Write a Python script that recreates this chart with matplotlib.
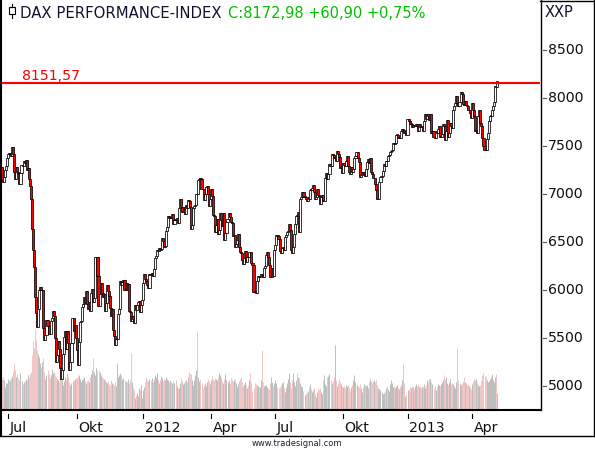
import matplotlib
matplotlib.use("Agg")
import matplotlib.pyplot as plt
import numpy as np
from matplotlib.lines import Line2D
from matplotlib.patches import Rectangle
from matplotlib.transforms import blended_transform_factory

# DAX Schlusskurse (Tage), ab 22.06.2011 bis 07.05.2013
jun11 = [7278, 7149, 7121, 7180, 7253, 7294, 7376]
jul11 = [7419, 7418, 7430, 7394, 7490, 7420, 7231, 7155, 7285, 7224, 7220, 7108, 7217, 7303, 7290, 7344,
         7326, 7356, 7253, 7270, 7158]
aug11 = [7082, 6953, 6636, 6414, 6236, 5923, 5763, 5613, 5798, 5997, 6035, 5995, 5995, 5603, 5480, 5529,
         5689, 5627, 5539, 5537, 5672, 5704, 5785]
sep11 = [5727, 5504, 5246, 5319, 5468, 5389, 5190, 5072, 5166, 5330, 5508, 5573, 5384, 5572, 5449, 5164,
         5253, 5449, 5713, 5578, 5640, 5502]
oct11 = [5377, 5217, 5455, 5671, 5675, 5826, 5858, 5925, 5863, 5988, 5857, 5800, 5875, 5784, 5970, 6012,
         5879, 5913, 6339, 6346, 6141]
nov11 = [5835, 5961, 6071, 5967, 5929, 5961, 5779, 5868, 6057, 5985, 5933, 5811, 5733, 5800, 5587, 5525,
         5428, 5493, 5493, 5745, 5800, 6089]
dec11 = [6052, 6080, 6107, 5995, 6068, 5996, 6062, 5785, 5775, 5675, 5730, 5702, 5653, 5846, 5791, 5847,
         5878, 5889, 5771, 5848, 5898]
jan12 = [6075, 6166, 6111, 6096, 6057, 6017, 6163, 6152, 6179, 6143, 6221, 6332, 6354, 6416, 6404, 6436,
         6420, 6422, 6539, 6511, 6444, 6458]
feb12 = [6616, 6656, 6766, 6754, 6765, 6748, 6793, 6692, 6733, 6728, 6748, 6699, 6849, 6949, 6867, 6810,
         6810, 6864, 6787, 6887, 6856]
mar12 = [6941, 6922, 6866, 6633, 6675, 6856, 6880, 6882, 6996, 6995, 7144, 7157, 7154, 7055, 7047, 6940,
         6996, 7078, 7079, 6999, 6875, 6947]
apr12 = [7056, 6982, 6784, 6775, 6606, 6675, 6743, 6583, 6624, 6801, 6733, 6671, 6801, 6523, 6590, 6704,
         6739, 6801, 6761]
may12 = [6710, 6694, 6561, 6570, 6444, 6475, 6518, 6579, 6452, 6401, 6385, 6308, 6271, 6332, 6404, 6287,
         6340, 6339, 6394, 6393, 6280, 6264]
jun12 = [5979, 5978, 5969, 6094, 6144, 6131, 6142, 6162, 6152, 6138, 6229, 6248, 6363, 6392, 6343, 6263,
         6132, 6136, 6228, 6149, 6416]
jul12 = [6472, 6578, 6566, 6535, 6410, 6387, 6438, 6444, 6419, 6557, 6576, 6603, 6612, 6686, 6630, 6420,
         6390, 6447, 6583, 6690, 6774, 6772]
aug12 = [6808, 6606, 6944, 6968, 7016, 6966, 6967, 6944, 6929, 6964, 6946, 7043, 7040, 7067, 7089, 7018,
         6950, 6972, 7048, 6988, 6983, 6895, 6971]
sep12 = [6989, 6932, 6932, 7167, 7214, 7157, 7213, 7310, 7290, 7412, 7403, 7375, 7390, 7345, 7451, 7413,
         7387, 7276, 7290, 7216]
oct12 = [7326, 7305, 7291, 7347, 7398, 7291, 7234, 7206, 7282, 7233, 7262, 7376, 7394, 7437, 7380, 7329,
         7173, 7196, 7230, 7204, 7227, 7188, 7261]
nov12 = [7335, 7363, 7327, 7377, 7232, 7204, 7163, 7168, 7101, 7043, 6950, 6950, 7123, 7173, 7184, 7244,
         7309, 7292, 7344, 7339, 7398, 7405]
dec12 = [7435, 7448, 7456, 7535, 7518, 7530, 7614, 7614, 7581, 7597, 7586, 7655, 7672, 7669, 7636, 7655,
         7612]
jan13 = [7779, 7756, 7732, 7732, 7695, 7720, 7708, 7715, 7729, 7711, 7657, 7731, 7702, 7701, 7704, 7660,
         7760, 7833, 7785, 7832, 7811, 7776]
feb13 = [7833, 7638, 7657, 7590, 7581, 7652, 7635, 7672, 7711, 7593, 7593, 7628, 7728, 7705, 7565, 7661,
         7773, 7591, 7634, 7741]
mar13 = [7708, 7691, 7870, 7919, 7945, 8016, 7952, 7914, 7960, 8058, 8043, 7937, 7932, 7964, 7932, 7912,
         7870, 7879, 7846, 7795]
apr13 = [7943, 7874, 7817, 7659, 7663, 7637, 7810, 7871, 7744, 7712, 7588, 7503, 7460, 7459, 7574, 7635,
         7760, 7813, 7815, 7873, 7913]
may13 = [7961, 8122, 8112.08, 8172.98]

# Umsatz (relative Einheiten)
v_jun11 = [30, 31, 33, 30, 23, 27, 27]
v_jul11 = [31, 29, 30, 32, 34, 38, 47, 40, 33, 36, 32, 30, 37, 29, 26, 28, 29, 31, 30, 35, 33]
v_aug11 = [36, 38, 55, 69, 62, 81, 70, 60, 56, 53, 47, 43, 48, 52, 38, 31, 35, 40, 36, 32, 35, 41, 37]
v_sep11 = [38, 35, 33, 31, 30, 28, 33, 37, 30, 25, 29, 33, 31, 37, 33, 28, 25, 27, 29, 30, 31, 32]
v_oct11 = [32, 34, 35, 31, 28, 30, 31, 33, 29, 27, 29, 30, 28, 33, 36, 40, 52, 38, 35, 42, 39]
v_nov11 = [40, 38, 35, 33, 32, 31, 30, 28, 27, 29, 26, 25, 30, 27, 26, 25, 28, 24, 47, 33, 35, 37]
v_dec11 = [35, 31, 32, 30, 29, 28, 31, 27, 30, 57, 28, 23, 20, 12, 15, 17, 14, 22, 20, 25, 12]
v_jan12 = [20, 23, 28, 33, 30, 29, 31, 30, 32, 28, 31, 35, 33, 37, 30, 27, 30, 34, 32, 29, 31, 30]
v_feb12 = [33, 31, 30, 28, 30, 28, 27, 29, 27, 30, 24, 22, 22, 27, 32, 29, 26, 27, 29, 30, 28]
v_mar12 = [33, 38, 36, 36, 30, 25, 30, 35, 40, 79, 33, 29, 31, 27, 22, 25, 27, 24, 28, 31, 29, 26]
v_apr12 = [30, 34, 31, 30, 32, 31, 30, 33, 37, 35, 33, 29, 27, 31, 36, 30, 28, 30, 26]
v_may12 = [32, 30, 29, 30, 31, 27, 23, 26, 29, 31, 33, 28, 24, 26, 28, 25, 22, 25, 30, 37, 28, 19]
v_jun12 = [22, 27, 26, 25, 24, 23, 23, 30, 60, 28, 24, 25, 25, 23, 21, 21, 27, 33, 28, 24, 27]
v_jul12 = [30, 27, 23, 22, 23, 25, 27, 28, 22, 18, 23, 27, 31, 37, 28, 22, 30, 37, 28, 24, 30, 37]
v_aug12 = [33, 32, 27, 24, 23, 19, 15, 17, 18, 19, 23, 26, 21, 18, 20, 22, 16, 13, 18, 22, 20, 22, 18]
v_sep12 = [16, 30, 35, 26, 24, 33, 34, 36, 30, 27, 29, 33, 65, 30, 24, 27, 31, 28, 26, 24]
v_oct12 = [23, 24, 22, 25, 24, 25, 22, 19, 23, 25, 30, 35, 28, 25, 24, 23, 26, 22, 18, 23, 26, 25, 24]
v_nov12 = [25, 22, 28, 31, 29, 27, 29, 30, 28, 31, 25, 22, 21, 20, 18, 16, 17, 19, 22, 24, 21, 19]
v_dec12 = [26, 30, 27, 23, 24, 22, 24, 25, 22, 21, 23, 25, 30, 46, 27, 14, 16]
v_jan13 = [20, 21, 23, 22, 24, 23, 21, 24, 26, 24, 25, 23, 24, 22, 23, 24, 26, 22, 25, 30, 28, 31]
v_feb13 = [31, 28, 26, 22, 24, 20, 23, 26, 25, 24, 26, 28, 30, 35, 31, 33, 27, 25, 28, 31]
v_mar13 = [26, 27, 26, 24, 22, 28, 63, 30, 27, 25, 27, 29, 33, 28, 27, 25, 26, 24, 23, 21]
v_apr13 = [26, 29, 31, 30, 31, 27, 25, 24, 25, 30, 35, 37, 34, 33, 30, 28, 29, 31, 33, 36, 30]
v_may13 = [28, 33, 36, 17]

price_months = [jun11, jul11, aug11, sep11, oct11, nov11, dec11, jan12, feb12, mar12, apr12, may12,
                jun12, jul12, aug12, sep12, oct12, nov12, dec12, jan13, feb13, mar13, apr13, may13]
vol_months = [v_jun11, v_jul11, v_aug11, v_sep11, v_oct11, v_nov11, v_dec11, v_jan12, v_feb12, v_mar12,
              v_apr12, v_may12, v_jun12, v_jul12, v_aug12, v_sep12, v_oct12, v_nov12, v_dec12, v_jan13,
              v_feb13, v_mar13, v_apr13, v_may13]

tick_months = [1, 4, 7, 10, 13, 16, 19, 22]
tick_labels = ["Jul", "Okt", "2012", "Apr", "Jul", "Okt", "2013", "Apr"]
y_ticks = [5000, 5500, 6000, 6500, 7000, 7500, 8000, 8500]
level = 8151.57

close = np.concatenate(price_months).astype(float)
vol = np.concatenate(vol_months).astype(float)
opn = np.r_[close[0], close[:-1]]
x = np.arange(len(close))
month_start = np.cumsum([0] + [len(m) for m in price_months])[:-1]

W, H = 595, 450
fig = plt.figure(figsize=(W / 100, H / 100), dpi=100)
rect = [2 / W, 40 / H, 538 / W, 408 / H]

step = 1.0404
x0 = month_start[1]
xlim = (x0 - 6 / step, x0 + 532 / step)

# volume
vax = fig.add_axes(rect)
up = close >= opn
vax.vlines(x, 0, vol, colors=np.where(up, "#b2b2b2", "#eebcbc"), lw=0.6)
vax.set_xlim(*xlim)
vax.set_ylim(0, 408)
vax.set_axis_off()

ax = fig.add_axes(rect)
ax.patch.set_alpha(0)
ax.set_xlim(*xlim)
ax.set_ylim(4750, 9000)
ax.set_axis_off()

body_lo = np.minimum(opn, close)
body_h = np.maximum(np.abs(close - opn), 8)
ax.bar(x, body_h, bottom=body_lo, width=2.0, color=np.where(up, "white", "#ff0000"),
       edgecolor="black", linewidth=0.55, zorder=3)

ax.axhline(level, color="#ff0000", lw=1.5, zorder=4)

# right scale
tr_y = blended_transform_factory(ax.transAxes, ax.transData)
for v in y_ticks:
    ax.add_line(Line2D([1 + 3 / 538, 1 + 6 / 538], [v, v], color="#555555", lw=0.8,
                       transform=tr_y, clip_on=False))
    ax.text(1 + 8 / 538, v, f"{v}", transform=tr_y, ha="left", va="center", fontsize=10.2,
            color="#111111", clip_on=False)

# time axis
tr_x = blended_transform_factory(ax.transData, ax.transAxes)
for m, lab in zip(tick_months, tick_labels):
    p = month_start[m]
    ax.add_line(Line2D([p, p], [-4 / 408, -8 / 408], color="black", lw=0.8,
                       transform=tr_x, clip_on=False))
    ax.text(p + 1.6, -22 / 408, lab, transform=tr_x, ha="left", va="baseline", fontsize=10.2,
            color="#111111", clip_on=False)


def px(xp, yp):
    return xp / W, 1 - yp / H


def fline(x1, y1, x2, y2, lw=1.0, color="black"):
    a, b = px(x1, y1)
    c, d = px(x2, y2)
    fig.add_artist(Line2D([a, c], [b, d], color=color, lw=lw, transform=fig.transFigure))


# frame
fline(1, 0, 1, 436, lw=1.5)
fline(540.5, 0, 540.5, 410, lw=1.0)
fline(594, 0, 594, 436, lw=1.0)
fline(540, 1, 595, 1, lw=1.0)
fline(0, 410, 540.5, 410, lw=1.5)
fline(0, 436, 595, 436, lw=1.0)

# header
bx, by = px(9, 14)
fig.add_artist(Rectangle((bx, by), 6 / W, 7 / H, transform=fig.transFigure, facecolor="white",
                         edgecolor="black", lw=0.8))
fline(12, 4, 12, 7, lw=0.8)
fline(12, 14, 12, 18, lw=0.8)
fig.text(*px(20.5, 18), "DAX PERFORMANCE-INDEX", fontsize=10.7, color="#111133", va="baseline")
fig.text(*px(228, 18), "C:8172,98 +60,90 +0,75%", fontsize=10.5, color="#00c000", va="baseline")
fig.text(*px(545, 17), "XXP", fontsize=10.5, color="#111133", va="baseline")
fig.text(*px(21.5, 80), "8151,57", fontsize=10.2, color="#ff0000", va="baseline")
fig.text(*px(297, 446), "www.tradesignal.com", fontsize=6, color="#202040", ha="center", va="baseline")

fig.savefig("out.png", dpi=100)
